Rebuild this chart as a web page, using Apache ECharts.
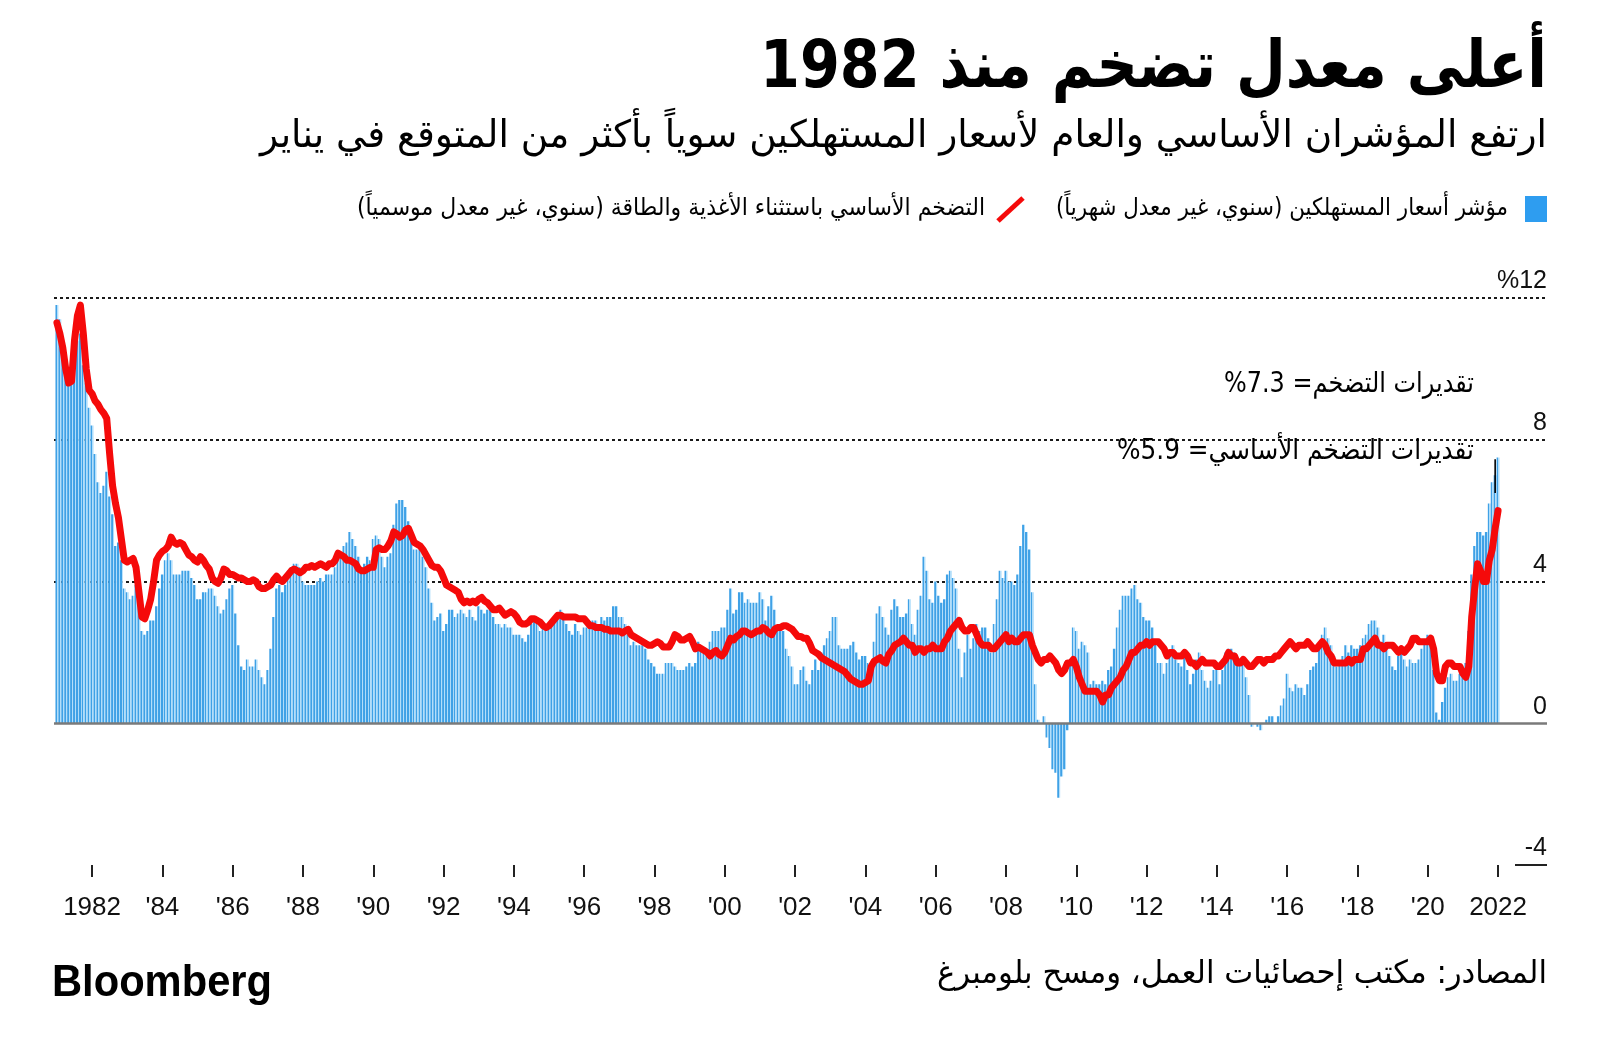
<!DOCTYPE html>
<html><head><meta charset="utf-8">
<script src="https://cdn.jsdelivr.net/npm/echarts@6/dist/echarts.min.js"></script>
<style>html,body{margin:0;padding:0;background:#fff}#c{width:1600px;height:1060px}</style>
</head><body><div id="c"></div>
<script>
// Monthly data, Jan 1981 .. Jan 2022
const startYear = 1981;
const cpi = [
 11.8,11.4,10.5,10.0,9.8,9.6,10.8,10.8,11.0,10.1,9.6,8.9,
 8.4,7.6,6.8,6.5,6.7,7.1,6.4,5.9,5.0,5.1,4.6,3.8,
 3.7,3.5,3.6,3.9,3.5,2.6,2.5,2.6,2.9,2.9,3.3,3.8,
 4.2,4.6,4.8,4.6,4.2,4.2,4.2,4.3,4.3,4.3,4.1,3.9,
 3.5,3.5,3.7,3.7,3.8,3.8,3.6,3.3,3.1,3.2,3.5,3.8,
 3.9,3.1,2.2,1.6,1.5,1.8,1.6,1.6,1.8,1.5,1.3,1.1,
 1.5,2.1,3.0,3.8,3.9,3.7,3.9,4.3,4.4,4.5,4.5,4.4,
 4.0,3.9,3.9,3.9,3.9,4.0,4.1,4.0,4.2,4.2,4.2,4.4,
 4.7,4.8,5.0,5.1,5.4,5.2,5.0,4.7,4.3,4.5,4.7,4.6,
 5.2,5.3,5.2,4.7,4.4,4.7,4.8,5.6,6.2,6.3,6.3,6.1,
 5.7,5.3,4.9,4.9,5.0,4.7,4.4,3.8,3.4,2.9,3.0,3.1,
 2.6,2.8,3.2,3.2,3.0,3.1,3.2,3.1,3.0,3.2,3.0,2.9,
 3.3,3.2,3.1,3.2,3.2,3.0,2.8,2.8,2.7,2.8,2.7,2.7,
 2.5,2.5,2.5,2.4,2.3,2.5,2.8,2.9,3.0,2.6,2.7,2.7,
 2.8,2.9,2.9,3.1,3.2,3.0,2.8,2.6,2.5,2.8,2.6,2.5,
 2.7,2.7,2.8,2.9,2.9,2.8,3.0,2.9,3.0,3.0,3.3,3.3,
 3.0,3.0,2.8,2.5,2.2,2.3,2.2,2.2,2.2,2.1,1.8,1.7,
 1.6,1.4,1.4,1.4,1.7,1.7,1.7,1.6,1.5,1.5,1.5,1.6,
 1.7,1.6,1.7,2.3,2.1,2.0,2.1,2.3,2.6,2.6,2.6,2.7,
 2.7,3.2,3.8,3.1,3.2,3.7,3.7,3.4,3.5,3.4,3.4,3.4,
 3.7,3.5,2.9,3.3,3.6,3.2,2.7,2.7,2.6,2.1,1.9,1.6,
 1.1,1.1,1.5,1.6,1.2,1.1,1.5,1.8,1.5,2.0,2.2,2.4,
 2.6,3.0,3.0,2.2,2.1,2.1,2.1,2.2,2.3,2.0,1.8,1.9,
 1.9,1.7,1.7,2.3,3.1,3.3,3.0,2.7,2.5,3.2,3.5,3.3,
 3.0,3.0,3.1,3.5,2.8,2.5,3.2,3.6,4.7,4.3,3.5,3.4,
 4.0,3.6,3.4,3.5,4.2,4.3,4.1,3.8,2.1,1.3,2.0,2.5,
 2.1,2.4,2.8,2.6,2.7,2.7,2.4,2.0,2.8,3.5,4.3,4.1,
 4.3,4.0,4.0,3.9,4.2,5.0,5.6,5.4,4.9,3.7,1.1,0.1,
 0.0,0.2,-0.4,-0.7,-1.3,-1.4,-2.1,-1.5,-1.3,-0.2,1.8,2.7,
 2.6,2.1,2.3,2.2,2.0,1.1,1.2,1.1,1.1,1.2,1.1,1.5,
 1.6,2.1,2.7,3.2,3.6,3.6,3.6,3.8,3.9,3.5,3.4,3.0,
 2.9,2.9,2.7,2.3,1.7,1.7,1.4,1.7,2.0,2.2,1.8,1.7,
 1.6,2.0,1.5,1.1,1.4,1.8,2.0,1.5,1.2,1.0,1.2,1.5,
 1.6,1.1,1.5,2.0,2.1,2.1,2.0,1.7,1.7,1.7,1.3,0.8,
 -0.1,0.0,-0.1,-0.2,0.0,0.1,0.2,0.2,0.0,0.2,0.5,0.7,
 1.4,1.0,0.9,1.1,1.0,1.0,0.8,1.1,1.5,1.6,1.7,2.1,
 2.5,2.7,2.4,2.2,1.9,1.6,1.7,1.9,2.2,2.0,2.2,2.1,
 2.1,2.2,2.4,2.5,2.8,2.9,2.9,2.7,2.3,2.5,2.2,1.9,
 1.6,1.5,1.9,2.0,1.8,1.6,1.8,1.7,1.7,1.8,2.1,2.3,
 2.5,2.3,1.5,0.3,0.1,0.6,1.0,1.3,1.4,1.2,1.2,1.4,
 1.4,1.7,2.6,4.2,5.0,5.4,5.4,5.3,5.4,6.2,6.8,7.0,
 7.5
];
const core = [
 11.3,11.0,10.6,10.0,9.6,9.65,10.8,11.5,11.8,11.0,10.0,9.4,
 9.3,9.1,9.0,8.85,8.75,8.6,7.6,6.7,6.2,5.8,5.2,4.6,
 4.55,4.6,4.65,4.4,3.7,3.0,2.95,3.2,3.5,4.0,4.6,4.75,
 4.85,4.9,5.0,5.25,5.1,5.05,5.1,5.05,4.9,4.75,4.7,4.6,
 4.55,4.7,4.6,4.45,4.35,4.1,4.0,3.95,4.1,4.35,4.3,4.2,
 4.2,4.15,4.1,4.1,4.05,4.0,4.0,4.05,4.0,3.85,3.8,3.8,
 3.85,3.9,4.05,4.15,4.05,4.0,4.1,4.2,4.3,4.35,4.3,4.25,
 4.3,4.4,4.4,4.45,4.4,4.45,4.5,4.45,4.4,4.5,4.5,4.6,
 4.8,4.75,4.7,4.6,4.6,4.55,4.5,4.35,4.3,4.3,4.35,4.4,
 4.4,4.9,4.95,4.9,4.9,5.0,5.15,5.4,5.35,5.25,5.3,5.45,
 5.5,5.3,5.1,5.05,5.0,4.9,4.75,4.6,4.45,4.4,4.4,4.3,
 4.1,3.9,3.85,3.8,3.75,3.7,3.5,3.4,3.45,3.4,3.45,3.4,
 3.5,3.55,3.45,3.4,3.3,3.2,3.2,3.25,3.15,3.05,3.1,3.15,
 3.1,3.0,2.85,2.8,2.8,2.85,2.95,2.95,2.9,2.85,2.75,2.7,
 2.75,2.85,2.95,3.05,3.05,3.0,3.0,3.0,3.0,3.0,2.95,2.95,
 2.95,2.85,2.75,2.75,2.7,2.7,2.7,2.65,2.65,2.6,2.6,2.6,
 2.6,2.55,2.6,2.65,2.5,2.45,2.4,2.35,2.3,2.25,2.2,2.2,
 2.25,2.3,2.25,2.15,2.15,2.15,2.3,2.5,2.45,2.35,2.35,2.4,
 2.45,2.3,2.1,2.15,2.1,2.05,2.0,1.9,2.0,2.05,1.95,1.9,
 2.0,2.2,2.4,2.35,2.45,2.5,2.6,2.6,2.55,2.5,2.55,2.6,
 2.6,2.7,2.65,2.55,2.5,2.65,2.7,2.7,2.75,2.75,2.7,2.65,
 2.55,2.45,2.45,2.4,2.4,2.25,2.05,2.0,1.95,1.85,1.8,1.75,
 1.7,1.65,1.6,1.55,1.5,1.45,1.35,1.25,1.2,1.15,1.1,1.1,
 1.15,1.2,1.6,1.75,1.8,1.85,1.75,1.7,1.95,2.05,2.2,2.25,
 2.3,2.4,2.3,2.2,2.2,2.0,2.1,2.1,2.0,2.1,2.1,2.2,
 2.1,2.1,2.1,2.3,2.4,2.6,2.7,2.8,2.9,2.7,2.6,2.6,
 2.7,2.7,2.5,2.3,2.2,2.2,2.2,2.1,2.1,2.2,2.3,2.4,
 2.5,2.3,2.4,2.3,2.3,2.4,2.5,2.5,2.5,2.2,2.0,1.8,
 1.7,1.8,1.8,1.9,1.8,1.7,1.5,1.4,1.5,1.7,1.7,1.8,
 1.6,1.3,1.1,0.9,0.9,0.9,0.9,0.9,0.8,0.6,0.8,0.8,
 1.0,1.1,1.2,1.3,1.5,1.6,1.8,2.0,2.0,2.1,2.2,2.2,
 2.3,2.2,2.3,2.3,2.3,2.2,2.1,1.9,2.0,2.0,1.9,1.9,
 1.9,2.0,1.9,1.7,1.7,1.6,1.7,1.8,1.7,1.7,1.7,1.7,
 1.6,1.6,1.7,1.8,2.0,1.9,1.9,1.7,1.7,1.8,1.7,1.6,
 1.6,1.7,1.8,1.8,1.7,1.8,1.8,1.8,1.9,1.9,2.0,2.1,
 2.2,2.3,2.2,2.1,2.2,2.2,2.2,2.3,2.2,2.1,2.1,2.2,
 2.3,2.2,2.0,1.9,1.7,1.7,1.7,1.7,1.7,1.8,1.7,1.8,
 1.8,1.8,2.1,2.1,2.2,2.3,2.4,2.2,2.2,2.1,2.2,2.2,
 2.2,2.1,2.0,2.1,2.0,2.1,2.2,2.4,2.4,2.3,2.3,2.3,
 2.3,2.4,2.1,1.4,1.2,1.2,1.6,1.7,1.7,1.6,1.6,1.6,
 1.4,1.3,1.6,3.0,3.8,4.5,4.3,4.0,4.0,4.6,4.9,5.5,
 6.0
];
const xTickYears = [1982,1984,1986,1988,1990,1992,1994,1996,1998,2000,2002,2004,2006,2008,2010,2012,2014,2016,2018,2020,2022];
const xTickLabels = ['1982',"'84","'86","'88","'90","'92","'94","'96","'98","'00","'02","'04","'06","'08","'10","'12","'14","'16","'18","'20",'2022'];
const yMin = -4, yMax = 12, yStep = 4;
const gridValues = [4, 8, 12];
const janMarker = [[491, 6.5, 7.45]];

const titleText = 'أعلى معدل تضخم منذ 1982';
const subtitleText = 'ارتفع المؤشران الأساسي والعام لأسعار المستهلكين سوياً بأكثر من المتوقع في يناير';
const legendCpi = 'مؤشر أسعار المستهلكين (سنوي، غير معدل شهرياً)';
const legendCore = 'التضخم الأساسي باستثناء الأغذية والطاقة (سنوي، غير معدل موسمياً)';
const noteCpi = 'تقديرات التضخم= 7.3%';
const noteCore = 'تقديرات التضخم الأساسي= 5.9%';
const sourceText = 'المصادر: مكتب إحصائيات العمل، ومسح بلومبرغ';

const cpiData = cpi.map((v, i) => [i, v]);
const coreData = core.map((v, i) => [i, v]);
const xTickMonths = xTickYears.map(y => (y - startYear) * 12);

const mctx = document.createElement('canvas').getContext('2d');
function fitScale(text, font, target) { mctx.font = font; return target / mctx.measureText(text).width; }
function rtl(s) { return '\u202B' + s + '\u202C'; }
function txt(s, x, y, font, target, align) {
  const t = rtl(s);
  return { type: 'text', x: x, y: y, scaleX: fitScale(t, font, target), z: 10,
    style: { text: t, font: font, fill: '#000', align: align || 'right', verticalAlign: 'middle' } };
}
const AR = '"DejaVu Sans"';
const BBG = 'bold 44px "Liberation Sans"';

const chart = echarts.init(document.getElementById('c'), null, { renderer: 'canvas' });
const barGradient = new echarts.graphic.LinearGradient(0, 0, 1, 0, [
  { offset: 0, color: '#3fa1e6' }, { offset: 0.55, color: '#3fa1e6' },
  { offset: 0.55, color: '#b2defa' }, { offset: 1, color: '#b2defa' }
]);

chart.setOption({
  animation: false,
  backgroundColor: '#fff',
  grid: { left: 54, right: 53, top: 298, bottom: 195, containLabel: false, outerBoundsMode: 'none' },
  xAxis: {
    type: 'value', min: -1, max: 508.7, position: 'bottom',
    axisLine: { show: false, onZero: false },
    axisTick: { show: true, customValues: xTickMonths, length: 12, lineStyle: { color: '#222', width: 2 } },
    axisLabel: { customValues: xTickMonths, margin: 30, fontSize: 26, color: '#111', fontFamily: '"Liberation Sans"',
      formatter: v => xTickLabels[xTickMonths.indexOf(v)] },
    splitLine: { show: false }
  },
  yAxis: {
    type: 'value', position: 'right', min: yMin, max: yMax, interval: yStep,
    axisLine: { show: false }, axisTick: { show: false },
    axisLabel: { inside: true, margin: 0, verticalAlign: 'bottom', padding: [0, 0, 4, 0], fontSize: 25, color: '#111',
      fontFamily: '"Liberation Sans"', formatter: v => v === yMax ? '%' + v : String(v) },
    splitLine: { show: false }
  },
  series: [
    { name: 'مؤشر أسعار المستهلكين', type: 'bar', data: cpiData, barWidth: 2.93,
      itemStyle: { color: barGradient }, z: 2, silent: true,
      markLine: { silent: true, symbol: 'none', label: { show: false }, z: 5,
        lineStyle: { color: '#7a7a7a', width: 2.5, type: 'solid' }, data: [{ yAxis: 0 }] } },
    { name: 'التضخم الأساسي', type: 'line', data: coreData, showSymbol: false, z: 4,
      lineStyle: { color: '#f50a0a', width: 7, cap: 'round', join: 'round' },
      markLine: { silent: true, symbol: 'none', label: { show: false }, z: 1,
        lineStyle: { color: '#1a1a1a', width: 2, type: [3, 3] }, data: gridValues.map(v => ({ yAxis: v })) } },
    { name: 'marker', type: 'custom', data: janMarker, z: 6, silent: true,
      renderItem: (params, api) => {
        const p1 = api.coord([api.value(0), api.value(1)]);
        const p2 = api.coord([api.value(0), api.value(2)]);
        return { type: 'line', shape: { x1: p1[0], y1: p1[1], x2: p2[0], y2: p2[1] }, style: { stroke: '#000', lineWidth: 1.6 } };
      } }
  ],
  graphic: [
    txt(titleText, 1547, 70, 'bold 66px ' + AR, 787),
    txt(subtitleText, 1547, 137, '38px ' + AR, 1287),
    { type: 'rect', shape: { x: 1525, y: 196, width: 22, height: 26 }, style: { fill: '#2e9df0' } },
    txt(legendCpi, 1508, 209, '24px ' + AR, 452),
    { type: 'line', shape: { x1: 998, y1: 221, x2: 1023, y2: 198 }, style: { stroke: '#f50a0a', lineWidth: 5 } },
    txt(legendCore, 985, 209, '24px ' + AR, 628),
    txt(noteCpi, 1474, 385, '28px ' + AR, 250),
    txt(noteCore, 1474, 452, '28px ' + AR, 357),
    txt(sourceText, 1547, 975, '32px ' + AR, 610),
    { type: 'text', x: 52, y: 984, z: 10, scaleX: fitScale('Bloomberg', BBG, 220),
      style: { text: 'Bloomberg', font: BBG, fill: '#000', align: 'left', verticalAlign: 'middle' } }
  ]
});

// short rule at the bottom value of the y axis, placed through the axis scale
const yBottom = chart.convertToPixel({ yAxisIndex: 0 }, yMin);
const xRight = chart.convertToPixel({ xAxisIndex: 0 }, 508.7);
chart.setOption({ graphic: [{ id: 'minRule', type: 'line', shape: { x1: xRight - 32, y1: yBottom, x2: xRight, y2: yBottom },
  style: { stroke: '#222', lineWidth: 2 }, z: 10 }] });
</script></body></html>
